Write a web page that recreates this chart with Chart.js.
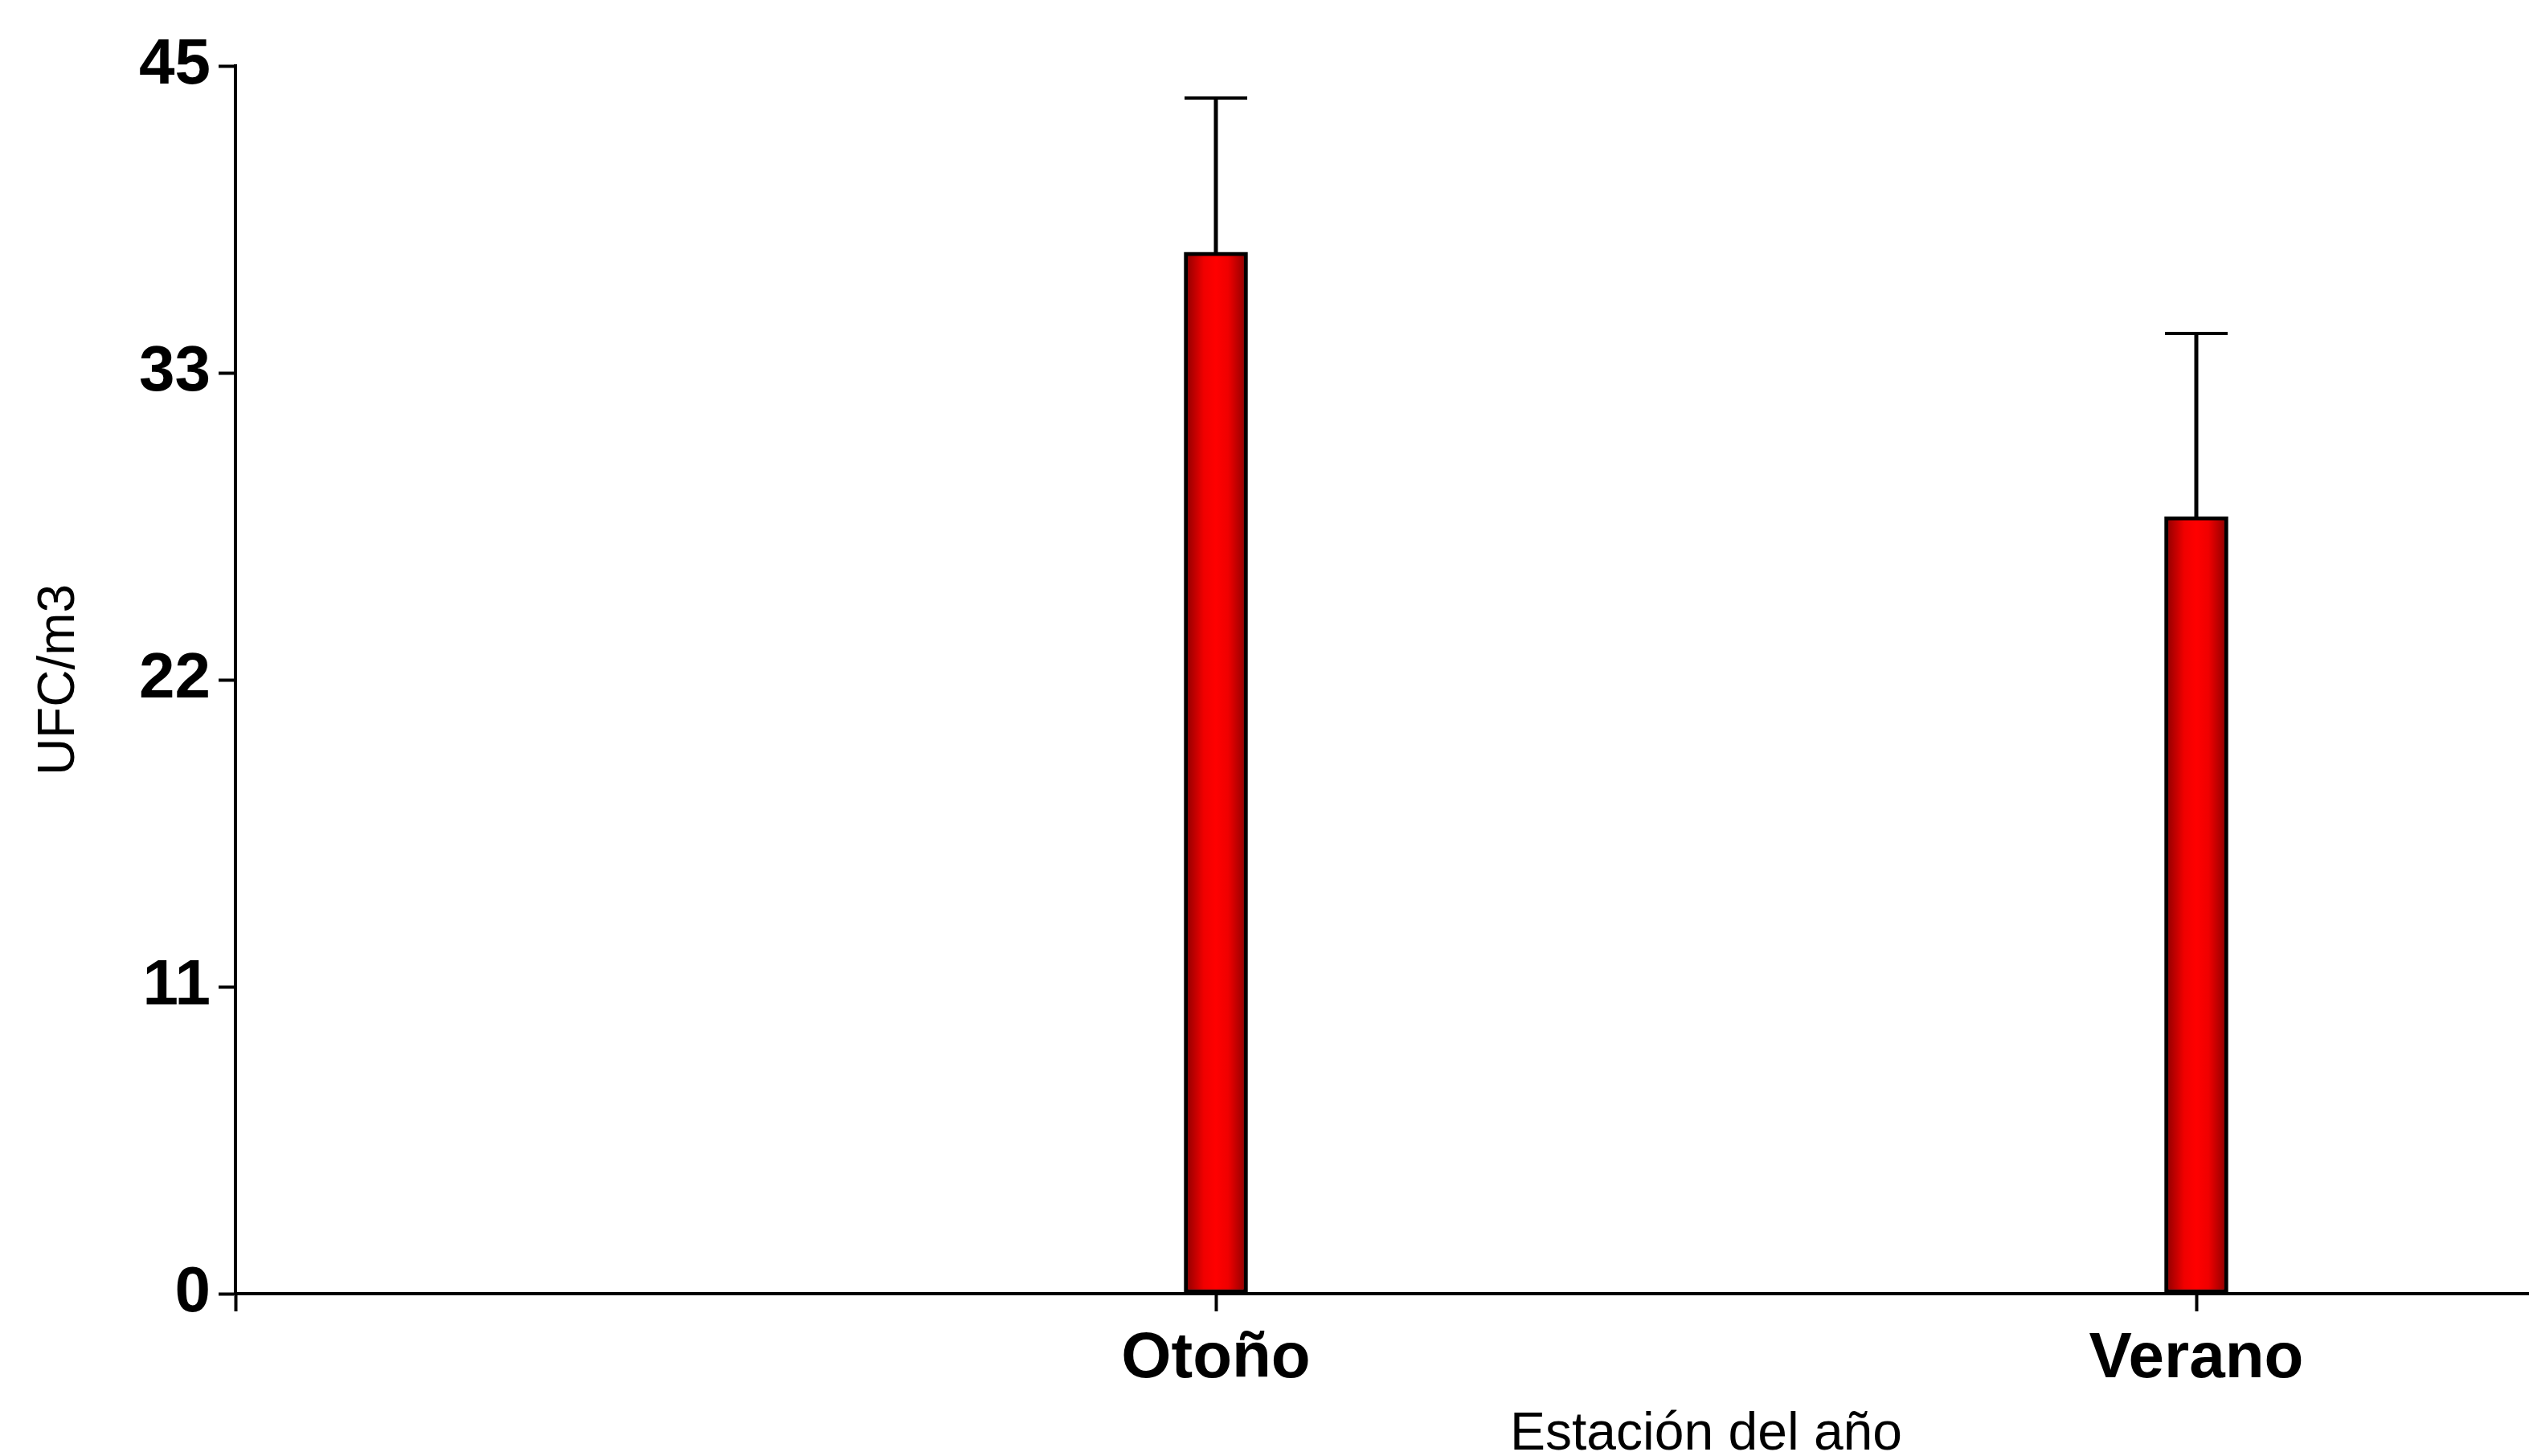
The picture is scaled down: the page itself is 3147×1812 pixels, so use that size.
<!DOCTYPE html>
<html>
<head>
<meta charset="utf-8">
<script src="https://cdn.jsdelivr.net/npm/chart.js@4"></script>
<style>
  html, body { margin: 0; padding: 0; background: #fff; overflow: hidden; }
  #wrap { width: 3147px; height: 1812px; overflow: hidden; position: relative; }
  canvas { display: block; }
</style>
</head>
<body>
<div id="wrap"><canvas id="c" width="3965" height="1812"></canvas></div>
<script>
// ---- data ----
const categories = ['Otoño', 'Verano'];
const means = [38.17, 28.48];
const errors = [5.65, 6.71];
const yTickValues = [0, 11.25, 22.5, 33.75, 45];
const yTickLabels = ['0', '11', '22', '33', '45'];
const xTitle = 'Estación del año';
const yTitle = 'UFC/m3';

// axis positions: an empty slot either side of the two seasons
const xLabels = [''].concat(categories, ['']);
const barData = [null].concat(means, [null]);
const errData = [null].concat(errors, [null]);

const errorBars = {
  id: 'errorBars',
  afterDatasetsDraw(chart) {
    const ctx = chart.ctx;
    const xs = chart.scales.x, ys = chart.scales.y;
    ctx.save();
    ctx.strokeStyle = '#000';
    barData.forEach((v, i) => {
      if (v === null) return;
      const x = xs.getPixelForValue(i);
      const yb = ys.getPixelForValue(v);
      const yt = ys.getPixelForValue(v + errData[i]);
      ctx.lineWidth = 5;
      ctx.beginPath(); ctx.moveTo(x, yb); ctx.lineTo(x, yt); ctx.stroke();
      ctx.lineWidth = 4;
      ctx.beginPath(); ctx.moveTo(x - 39, yt); ctx.lineTo(x + 39, yt); ctx.stroke();
    });
    ctx.restore();
  }
};

function barFill(c) {
  const chart = c.chart;
  const xs = chart.scales && chart.scales.x;
  if (!xs || c.dataIndex === undefined) return '#ff0000';
  const x = xs.getPixelForValue(c.dataIndex);
  if (!isFinite(x)) return '#ff0000';
  const g = chart.ctx.createLinearGradient(x - 38, 0, x + 38, 0);
  g.addColorStop(0, '#8c0000');
  g.addColorStop(0.3, '#f00000');
  g.addColorStop(0.5, '#ff0000');
  g.addColorStop(0.7, '#f00000');
  g.addColorStop(1, '#8c0000');
  return g;
}

new Chart(document.getElementById('c'), {
  type: 'bar',
  data: {
    labels: xLabels,
    datasets: [{
      data: barData,
      backgroundColor: barFill,
      borderColor: '#000',
      borderWidth: 5,
      borderSkipped: false,
      barThickness: 79
    }]
  },
  options: {
    responsive: false,
    animation: false,
    events: [],
    layout: { padding: { left: 10, top: 82, right: 7, bottom: 0 } },
    plugins: { legend: { display: false }, tooltip: { enabled: false } },
    scales: {
      x: {
        type: 'category',
        offset: false,
        grid: { offset: false, drawOnChartArea: false, drawTicks: true, tickLength: 22, tickWidth: 4, color: '#000' },
        border: { display: true, color: '#000', width: 4 },
        ticks: { autoSkip: false, maxRotation: 0, color: '#000', padding: 12,
                 font: { family: 'Liberation Sans, Arial, sans-serif', size: 80, weight: 'bold' } },
        title: { display: true, text: xTitle, color: '#000', padding: { top: 0, bottom: 0 },
                 font: { family: 'Liberation Sans, Arial, sans-serif', size: 66, lineHeight: 0.8 } },
        afterFit(s) { s.height = 1812 - 1610; }
      },
      y: {
        min: 0, max: 45,
        grid: { drawOnChartArea: false, drawTicks: true, tickLength: 21, tickWidth: 4, color: '#000' },
        border: { display: true, color: '#000', width: 4 },
        afterBuildTicks(s) { s.ticks = yTickValues.map(v => ({ value: v })); },
        ticks: { color: '#000', padding: 10,
                 callback: (v, i) => yTickLabels[i],
                 font: { family: 'Liberation Sans, Arial, sans-serif', size: 80, weight: 'bold' } },
        title: { display: true, text: yTitle, color: '#000', padding: { top: 26, bottom: 0 },
                 font: { family: 'Liberation Sans, Arial, sans-serif', size: 64 } },
        afterFit(s) { s.width = 293 - 10; }
      }
    }
  },
  plugins: [errorBars]
});
</script>
</body>
</html>
